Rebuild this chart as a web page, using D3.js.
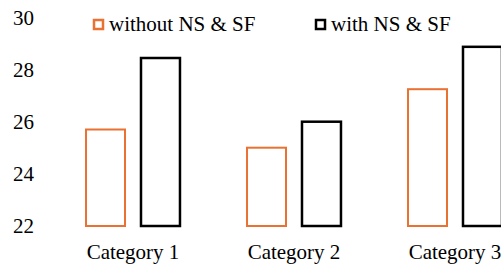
<!DOCTYPE html>
<html>
<head>
<meta charset="utf-8">
<script src="https://cdn.jsdelivr.net/npm/d3@7"></script>
<style>
  body { margin: 0; background: #fff; }
</style>
</head>
<body>
<svg width="501" height="265"></svg>
<script>
var categories = ["Category 1", "Category 2", "Category 3"];
var seriesNames = ["without NS & SF", "with NS & SF"];
var withoutValues = [25.75, 25.05, 27.3];
var withValues = [28.5, 26.05, 28.93];
var yTicks = [22, 24, 26, 28, 30];

var colors = ["#E97132", "#000000"];
var strokes = [2, 2.5];
var FONT = "'Times New Roman', 'Liberation Serif', Tinos, 'DejaVu Serif', serif";

var svg = d3.select("svg")
  .attr("font-family", FONT)
  .attr("font-size", 21);

var x = d3.scaleBand()
  .domain(categories)
  .range([52.5, 535.5])
  .paddingInner(0.404)
  .paddingOuter(0.202);

var xSub = d3.scaleBand()
  .domain(seriesNames)
  .range([0, x.bandwidth()])
  .paddingInner(0.2545);

var y = d3.scaleLinear().domain([22, 30]).range([227, 19]);

var rows = categories.map((c, i) => ({
  cat: c,
  vals: [withoutValues[i], withValues[i]]
}));

var groups = svg.selectAll("g.cat")
  .data(rows)
  .enter()
  .append("g")
  .attr("class", "cat")
  .attr("transform", (d) => "translate(" + x(d.cat) + ",0)");

groups.selectAll("rect")
  .data((d) => d.vals.map((v, j) => ({ v: v, s: seriesNames[j], j: j })))
  .enter()
  .append("rect")
  .attr("x", (d) => xSub(d.s) + 1)
  .attr("width", xSub.bandwidth() - 2)
  .attr("y", (d) => y(d.v))
  .attr("height", (d) => y(22) - y(d.v) - 1)
  .attr("fill", "none")
  .attr("stroke", (d) => colors[d.j])
  .attr("stroke-width", (d) => strokes[d.j]);

// y tick labels, no axis line
svg.selectAll("text.ytick")
  .data(yTicks)
  .enter()
  .append("text")
  .attr("class", "ytick")
  .attr("x", 34)
  .attr("y", (d) => y(d) - 1)
  .attr("dy", "0.35em")
  .attr("text-anchor", "end")
  .text((d) => d);

svg.selectAll("text.xlab")
  .data(categories)
  .enter()
  .append("text")
  .attr("class", "xlab")
  .attr("x", (d) => x(d) + x.bandwidth() / 2)
  .attr("y", 259)
  .attr("text-anchor", "middle")
  .text((d) => d);

// legend
var legendX = [93, 315];
var legend = svg.selectAll("g.legend")
  .data(seriesNames)
  .enter()
  .append("g")
  .attr("class", "legend")
  .attr("transform", (d, i) => "translate(" + legendX[i] + ",19)");

legend.append("rect")
  .attr("x", 1)
  .attr("y", 1)
  .attr("width", 9)
  .attr("height", 9)
  .attr("fill", "none")
  .attr("stroke", (d, i) => colors[i])
  .attr("stroke-width", 2.5);

legend.append("text")
  .attr("x", 16)
  .attr("y", 12)
  .text((d) => d);
</script>
</body>
</html>
